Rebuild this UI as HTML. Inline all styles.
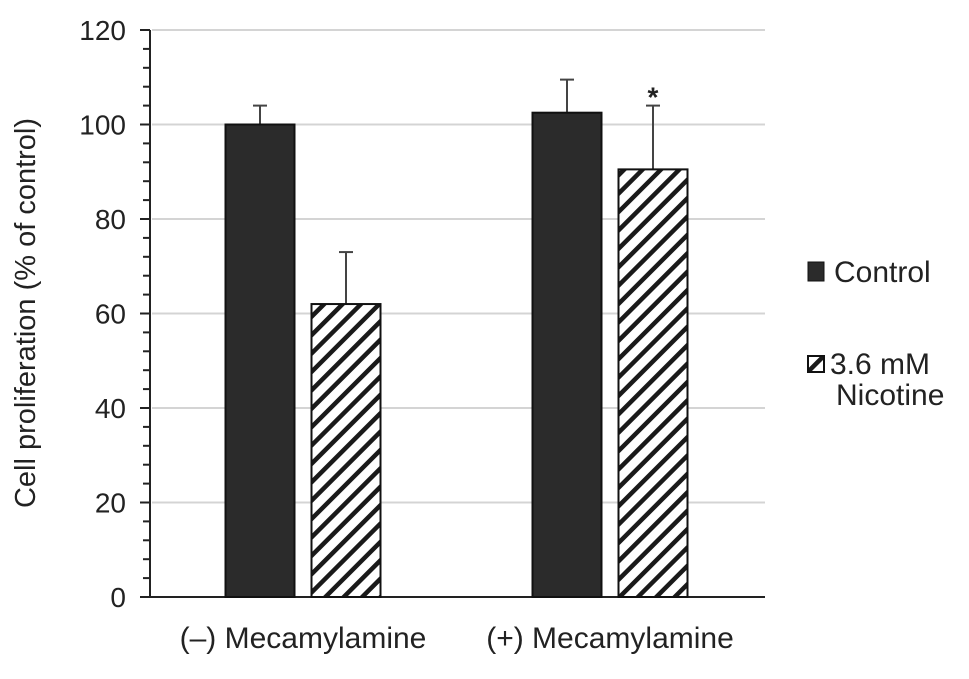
<!DOCTYPE html>
<html><head><meta charset="utf-8"><style>
body{margin:0;background:#fff;}
svg text{font-family:"Liberation Sans",Arial,sans-serif;fill:#222;}
</style></head><body>
<svg id="chart" width="969" height="674" viewBox="0 0 969 674">
<defs>
<pattern id="hatch" patternUnits="userSpaceOnUse" width="13" height="13" patternTransform="rotate(45)">
<rect width="13" height="13" fill="#fff"/>
<rect x="0" y="0" width="4.5" height="13" fill="#1a1a1a"/>
</pattern>
</defs>
<g id="grid"></g><g id="axis"></g><g id="bars"></g>
<text x="0" y="0" transform="translate(35,313) rotate(-90)" text-anchor="middle" font-size="29">Cell proliferation (% of control)</text>
<g>
<rect x="808" y="262" width="16" height="19" fill="#2b2b2b" stroke="#111"/>
<text x="834" y="282" font-size="30">Control</text>
<rect x="808" y="356" width="16" height="16" fill="url(#hatch)" stroke="#111" stroke-width="2"/>
<text x="830" y="374" font-size="30">3.6 mM</text>
<text x="836" y="405" font-size="30">Nicotine</text>
</g>
</svg>
<script>
const categories=["(\u2013) Mecamylamine","(+) Mecamylamine"];
const controlValues=[100,102.5];
const controlErrors=[4,7];
const nicotineValues=[62,90.5];
const nicotineErrors=[11,13.5];
const significance=["","*"];
const yTicks=[0,20,40,60,80,100,120];
const NS="http://www.w3.org/2000/svg";
const y0=597,yTop=30,yMax=120;
function y(v){return y0-(v/yMax)*(y0-yTop);}
const groupCenters=[303,610];
function mk(tag,attrs,parent){const e=document.createElementNS(NS,tag);for(const k in attrs)e.setAttribute(k,attrs[k]);parent.appendChild(e);return e;}
const grid=document.getElementById('grid'),axis=document.getElementById('axis'),bars=document.getElementById('bars');
yTicks.forEach(t=>{
 if(t>0){const g=mk('line',{x1:152,x2:765,y1:y(t),y2:y(t),stroke:'#d4d4d4','stroke-width':2},grid);
 
 }
 const l=mk('text',{x:126,y:y(t)+10,'text-anchor':'end','font-size':28},axis);l.textContent=t;
 
 
});
for(let v=0;v<=yMax;v+=4){const major=v%20===0;
 const tk=mk('line',{x1:major?140:143,x2:150,y1:y(v),y2:y(v),stroke:'#222','stroke-width':2},axis);
 
 }
const ya=mk('line',{x1:150,x2:150,y1:y(yMax),y2:y0,stroke:'#222','stroke-width':2},axis);


const xa=mk('line',{x1:150,x2:765,y1:y0,y2:y0,stroke:'#222','stroke-width':2},axis);


const bw=69;
function errBar(cx,v,e,name){
 const g=mk('g',{stroke:'#444','stroke-width':2},bars);
 
 
 mk('line',{x1:cx,x2:cx,y1:y(v),y2:y(v+e)},g);
 mk('line',{x1:cx-7,x2:cx+7,y1:y(v+e),y2:y(v+e)},g);
}
categories.forEach((c,i)=>{
 const gc=groupCenters[i];
 const cx1=gc-43,cx2=gc+43;
 errBar(cx1,controlValues[i],controlErrors[i],'error-bar-control-'+i);
 errBar(cx2,nicotineValues[i],nicotineErrors[i],'error-bar-nicotine-'+i);
 const b1=mk('rect',{x:cx1-bw/2,y:y(controlValues[i]),width:bw,height:y0-y(controlValues[i]),fill:'#2b2b2b',stroke:'#111','stroke-width':2},bars);
 
 
 const b2=mk('rect',{x:cx2-bw/2,y:y(nicotineValues[i]),width:bw,height:y0-y(nicotineValues[i]),fill:'url(#hatch)',stroke:'#111','stroke-width':2},bars);
 
 
 if(significance[i]){const s=mk('text',{x:cx2,y:y(nicotineValues[i]+nicotineErrors[i])+1,'text-anchor':'middle','font-size':28,'font-weight':'bold'},bars);s.textContent=significance[i];
 
 }
 const lab=mk('text',{x:gc,y:648,'text-anchor':'middle','font-size':30},axis);lab.textContent=c;
 
 
});
</script>
</body></html>
